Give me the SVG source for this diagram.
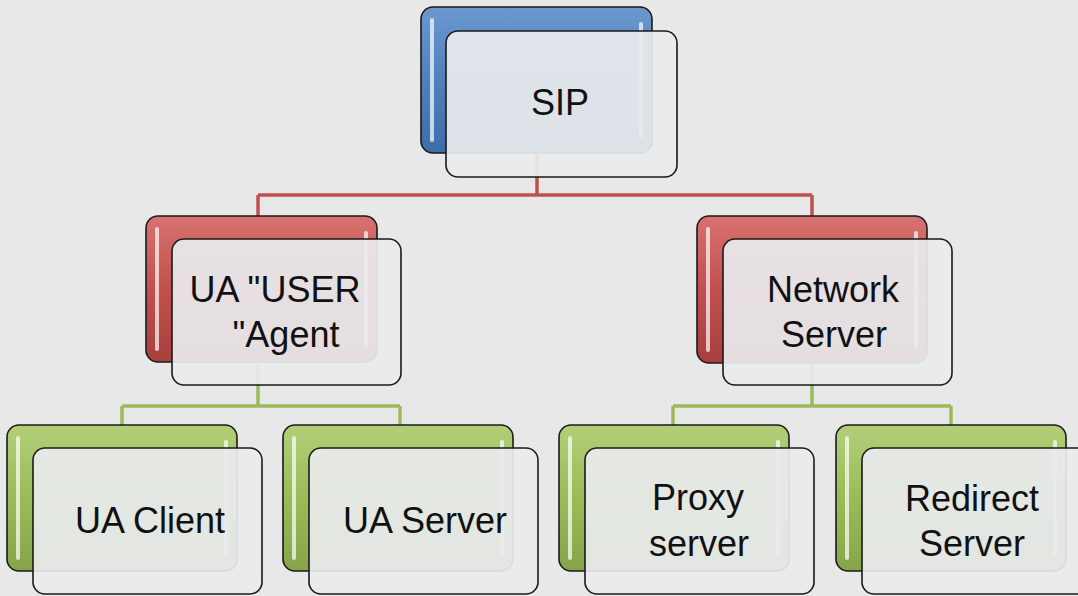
<svg xmlns="http://www.w3.org/2000/svg" width="1078" height="596" viewBox="0 0 1078 596">
  <defs>
    <linearGradient id="gBlue" x1="0" y1="0" x2="0" y2="1">
      <stop offset="0" stop-color="#6b98cf"/>
      <stop offset="0.5" stop-color="#4f81bd"/>
      <stop offset="1" stop-color="#3e6ca8"/>
    </linearGradient>
    <linearGradient id="gRed" x1="0" y1="0" x2="0" y2="1">
      <stop offset="0" stop-color="#d87270"/>
      <stop offset="0.5" stop-color="#c0504d"/>
      <stop offset="1" stop-color="#a8403d"/>
    </linearGradient>
    <linearGradient id="gGreen" x1="0" y1="0" x2="0" y2="1">
      <stop offset="0" stop-color="#b2cf78"/>
      <stop offset="0.5" stop-color="#9bbb59"/>
      <stop offset="1" stop-color="#86a54a"/>
    </linearGradient>
    <style>
      .back { stroke: #1a1a1a; stroke-width: 1.6; }
      .shine { stroke: #ffffff; stroke-opacity: 0.7; stroke-width: 4; stroke-linecap: round; fill: none; }
      .front { fill: #e9ebed; fill-opacity: 0.93; stroke: #1a1a1a; stroke-width: 1.6; }
      .label { font-family: "Liberation Sans", Arial, sans-serif; font-size: 36px; fill: #111111; text-anchor: middle; }
      .red { stroke: #c0504d; stroke-width: 3.5; fill: none; }
      .green { stroke: #9bbb59; stroke-width: 3.5; fill: none; }
    </style>
  </defs>

  <rect width="1078" height="596" fill="#e8e8e8"/>

  <!-- connectors -->
  <g id="connectors">
    <path class="red" d="M537 153 V195 M258 195 H812 M258 195 V216 M812 195 V216"/>
    <path class="green" d="M258 362 V406 M122 406 H400 M122 406 V425 M400 406 V425"/>
    <path class="green" d="M812 362 V406 M673 406 H951 M673 406 V425 M951 406 V425"/>
  </g>

  <!-- root -->
  <g id="node-sip">
    <rect class="back" x="421" y="7" width="231" height="146" rx="12" fill="url(#gBlue)"/>
    <path class="shine" d="M432 20 V140 M641 24 V136"/>
    <rect class="front" x="446" y="31" width="231" height="146" rx="12"/>
    <text class="label" x="560" y="115">SIP</text>
  </g>

  <!-- second level -->
  <g id="node-ua">
    <rect class="back" x="146" y="216" width="231" height="146" rx="12" fill="url(#gRed)"/>
    <path class="shine" d="M157 229 V349 M366 233 V345"/>
    <rect class="front" x="172" y="239" width="229" height="146" rx="12"/>
    <text class="label" x="275" y="302">UA "USER</text>
    <text class="label" x="286" y="347">"Agent</text>
  </g>

  <g id="node-network">
    <rect class="back" x="697" y="216" width="230" height="147" rx="12" fill="url(#gRed)"/>
    <path class="shine" d="M708 229 V350 M916 233 V346"/>
    <rect class="front" x="723" y="239" width="229" height="146" rx="12"/>
    <text class="label" x="833" y="302">Network</text>
    <text class="label" x="834" y="347">Server</text>
  </g>

  <!-- third level -->
  <g id="node-ua-client">
    <rect class="back" x="7" y="425" width="230" height="146" rx="12" fill="url(#gGreen)"/>
    <path class="shine" d="M18 438 V558 M226 442 V554"/>
    <rect class="front" x="33" y="448" width="229" height="146" rx="12"/>
    <text class="label" x="150" y="533">UA Client</text>
  </g>

  <g id="node-ua-server">
    <rect class="back" x="283" y="425" width="230" height="146" rx="12" fill="url(#gGreen)"/>
    <path class="shine" d="M294 438 V558 M502 442 V554"/>
    <rect class="front" x="309" y="448" width="229" height="146" rx="12"/>
    <text class="label" x="425" y="533">UA Server</text>
  </g>

  <g id="node-proxy">
    <rect class="back" x="559" y="425" width="230" height="146" rx="12" fill="url(#gGreen)"/>
    <path class="shine" d="M570 438 V558 M778 442 V554"/>
    <rect class="front" x="585" y="448" width="229" height="146" rx="12"/>
    <text class="label" x="698" y="510">Proxy</text>
    <text class="label" x="699" y="556">server</text>
  </g>

  <g id="node-redirect">
    <rect class="back" x="836" y="425" width="230" height="146" rx="12" fill="url(#gGreen)"/>
    <path class="shine" d="M847 438 V558 M1055 442 V554"/>
    <rect class="front" x="862" y="448" width="229" height="146" rx="12"/>
    <text class="label" x="972" y="511">Redirect</text>
    <text class="label" x="972" y="556">Server</text>
  </g>
</svg>
